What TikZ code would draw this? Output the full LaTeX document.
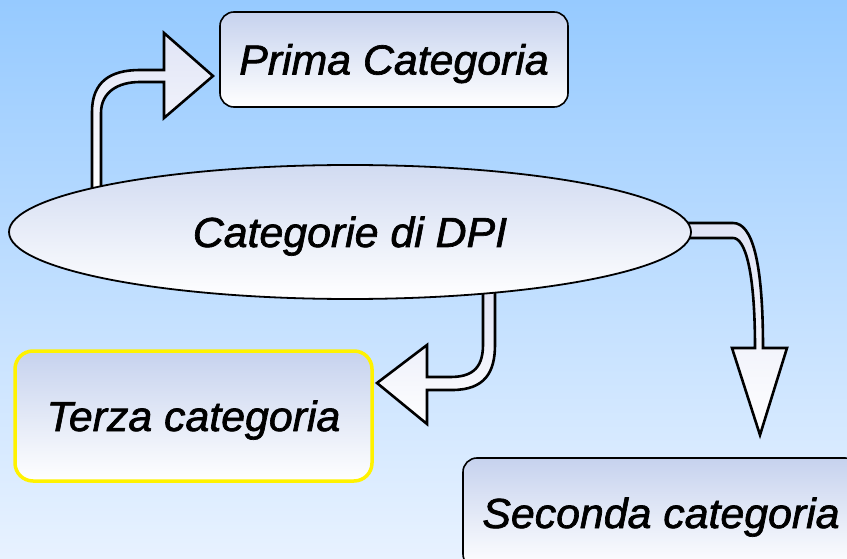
\documentclass[tikz,border=0pt]{standalone}
\usepackage{fontspec}
\setmainfont{Liberation Sans}
\newfontface\lblfont{Liberation Sans Italic}[FakeBold=1.6, FakeStretch=1.02]
\usetikzlibrary{shapes.geometric}
\definecolor{bgtop}{RGB}{150,202,255}
\definecolor{bgbot}{RGB}{232,242,255}
\definecolor{boxtop}{RGB}{198,210,238}
\definecolor{arrowfill}{RGB}{224,228,246}
\tikzset{
  lbl/.style={font=\fontsize{42}{50}\lblfont, text=black, text height=30pt, text depth=0pt},
  catbox/.style={draw=black, line width=1.6pt, rounded corners=14pt, top color=boxtop, bottom color=white, lbl},
  blockarrow/.style={draw=black, line width=2.6pt, line join=miter, top color=arrowfill, bottom color=white},
}
\begin{document}
\begin{tikzpicture}[x=1pt,y=-1pt]
\useasboundingbox (0,0) rectangle (847,559);
\shade[top color=bgtop, bottom color=bgbot] (0,0) rectangle (847,559);

% boxes
\node[catbox, minimum width=348pt, minimum height=95pt] (prima) at (394,59.5) {Prima Categoria};
\node[catbox, draw=yellow, line width=3.5pt, rounded corners=18pt, minimum width=357pt, minimum height=130pt] (terza) at (193.5,416) {Terza categoria};
\node[catbox, minimum width=396pt, minimum height=110pt] (seconda) at (661,513) {Seconda categoria};

% block arrows
\draw[blockarrow] (92,190) -- (92,112) .. controls (92,82) and (110,70) .. (140,70) -- (164,70) -- (164,33) -- (213,76) -- (164,118) -- (164,82) -- (140,82) .. controls (118,82) and (101,92) .. (101,113) -- (101,190) -- cycle;
\draw[blockarrow] (483,285) -- (483,345) .. controls (483,370) and (470,377) .. (450,377) -- (427,377) -- (427,345) -- (377,383) -- (427,424) -- (427,390) -- (452,390) .. controls (485,390) and (495,372) .. (495,345) -- (495,285) -- cycle;
\draw[blockarrow] (675,223) -- (733,223) .. controls (752,223) and (763,260) .. (763,348) -- (787,348) -- (760,435) -- (732,348) -- (755,348) .. controls (755,270) and (745,238) .. (733,238) -- (675,238) -- cycle;

% central ellipse
\node[ellipse, draw=black, line width=1.8pt, top color=boxtop!80, bottom color=white, minimum width=682pt, minimum height=134pt, inner sep=0pt, lbl] (dpi) at (350,232) {Categorie di DPI};
\end{tikzpicture}
\end{document}
